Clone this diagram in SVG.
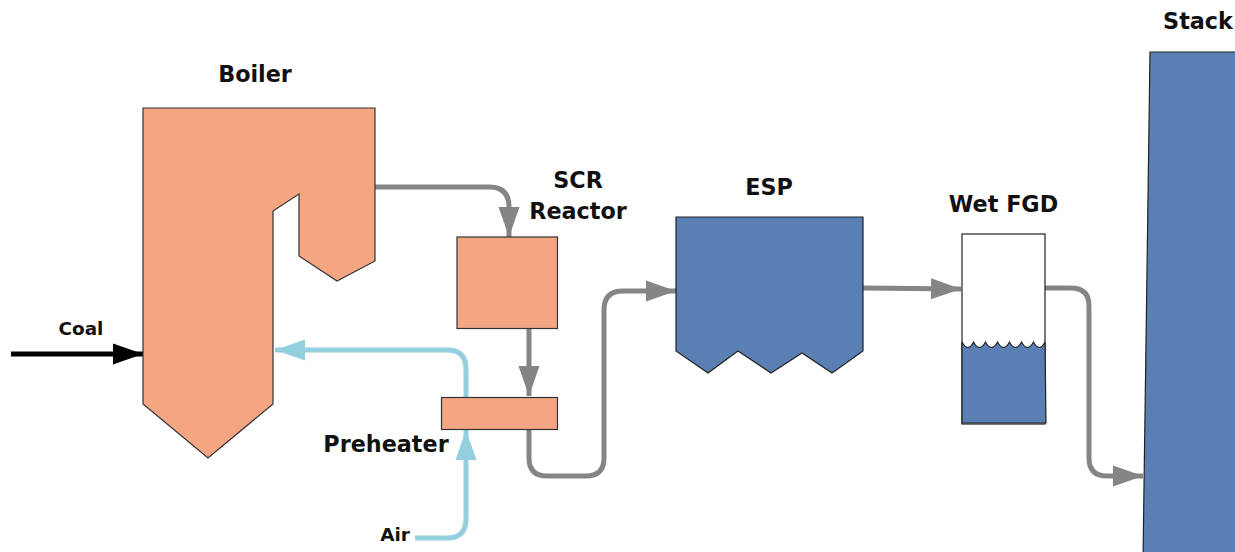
<svg xmlns="http://www.w3.org/2000/svg" width="1235" height="552" viewBox="0 0 1235 552">
<style>
.o{fill:#f4a683;stroke:#333;stroke-width:1.2;stroke-linejoin:miter}
.b{fill:#5a80b3;stroke:#222;stroke-width:1.2}
.c{fill:none;stroke-width:5;stroke-linecap:butt}
.g{stroke:#858585}
.l{stroke:#94cfdf}
.k{stroke:#000}
text{font-family:"DejaVu Sans","Liberation Sans",sans-serif;fill:#111;font-weight:700;text-anchor:middle}
.t{font-size:22.300px}
.s{font-size:18.400px}
</style>
<defs>
<marker id="ag" markerUnits="userSpaceOnUse" markerWidth="32" markerHeight="24" refX="31" refY="12" orient="auto"><path d="M1 1.500L31 12L1 22.500z" fill="#858585"/></marker>
<marker id="al" markerUnits="userSpaceOnUse" markerWidth="32" markerHeight="24" refX="31" refY="12" orient="auto"><path d="M1 1.500L31 12L1 22.500z" fill="#94cfdf"/></marker>
<marker id="ak" markerUnits="userSpaceOnUse" markerWidth="32" markerHeight="24" refX="31" refY="12" orient="auto"><path d="M1 1.500L31 12L1 22.500z" fill="#000"/></marker>
</defs>
<g id="connectors">
<path class="c g" marker-end="url(#ag)" d="M375 187H489Q509 187 509 207V237"/>
<path class="c g" marker-end="url(#ag)" d="M529 328V396"/>
<path class="c g" marker-end="url(#ag)" d="M529 429V458Q529 476 547 476H586Q604 476 604 458V310Q604 291 623 291H676"/>
<path class="c g" marker-end="url(#ag)" d="M863 288L961 289"/>
<path class="c g" marker-end="url(#ag)" d="M1045 288H1071Q1089 288 1089 306V458Q1089 476 1107 476H1143"/>
<path class="c l" marker-end="url(#al)" d="M466 397V369Q466 350 447 350H275"/>
<path class="c l" marker-end="url(#al)" d="M415 538H447Q466 538 466 519V430"/>
<path class="c k" marker-end="url(#ak)" d="M11 354H143"/>
</g>
<g id="boiler"><path class="o" d="M143 108H375V261L337 281L299 256V194L273 211V404L208 458L143 404Z"/><text class="t" x="255" y="82">Boiler</text></g>
<g id="scr"><rect class="o" x="457" y="237" width="100.500" height="91.500"/><text class="t" x="578" y="188">SCR</text><text class="t" x="578" y="219">Reactor</text></g>
<g id="preheater"><rect class="o" x="441.500" y="397.500" width="116" height="32"/><text class="t" x="386" y="452">Preheater</text></g>
<g id="esp"><path class="b" d="M676 217H863V351L832 373L802 353L771 373L738 351L708 373L676 351Z"/><text class="t" x="769" y="195">ESP</text></g>
<g id="fgd"><rect x="962" y="234" width="83" height="190" fill="#fff" stroke="#222" stroke-width="1.200"/><path class="b" d="M962 342Q968 353 973.500 342Q979.500 353 985.500 342Q991.500 353 997.500 342Q1003.500 353 1009.500 342Q1015.500 353 1021.500 342Q1027.500 353 1033.500 342Q1039.500 353 1045 342L1046 423H962Z"/><text class="t" x="1003.500" y="212">Wet FGD</text></g>
<g id="stack"><path class="b" d="M1150 52H1240V560H1143Z"/><text class="t" x="1198" y="29">Stack</text></g>
<g id="coal"><text class="s" x="81" y="335">Coal</text></g>
<g id="air"><text class="s" x="395" y="541">Air</text></g>
</svg>
